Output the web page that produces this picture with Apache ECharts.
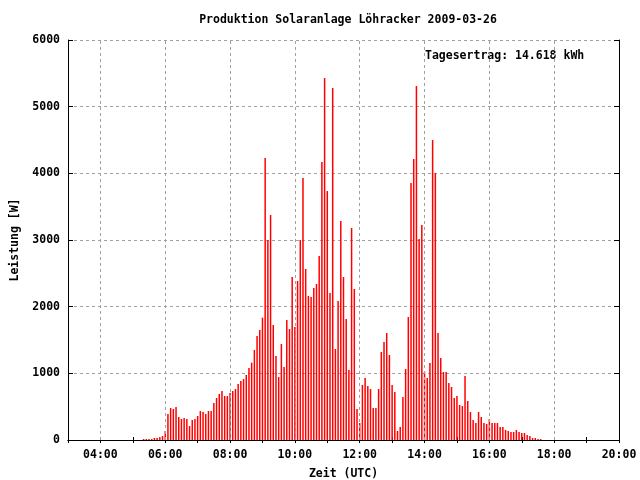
<!DOCTYPE html>
<html><head><meta charset="utf-8">
<script src="https://cdn.jsdelivr.net/npm/echarts@6/dist/echarts.min.js"></script>
<style>html,body{margin:0;padding:0;background:#fff}#c{width:640px;height:480px}</style>
</head><body><div id="c"></div>
<script>
const titleText = 'Produktion Solaranlage Löhracker 2009-03-26';
const noteText = 'Tagesertrag: 14.618 kWh';
const startTime = '05:20';
const stepMinutes = 5;
const powerValues = [
 15,15,15,15,30,30,45,60,
 135,390,480,465,495,345,315,330,315,210,300,315,
 360,435,420,390,435,435,555,630,690,735,660,660,
 705,735,765,840,885,915,975,1080,1160,1350,1560,1650,
 1835,4230,3000,3375,1725,1260,945,1440,1095,1800,1665,2445,
 1695,2385,3000,3930,2565,2160,2145,2280,2340,2760,4170,5430,
 3735,2205,5280,1365,2085,3285,2445,1815,1050,3180,2265,465,
 255,825,930,810,765,480,480,765,1320,1470,1605,1275,
 825,720,135,195,645,1065,1845,3855,4215,5310,3015,3225,
 1020,930,1155,4500,4005,1605,1230,1020,1020,855,795,630,
 660,525,510,960,585,420,300,255,420,345,255,240,
 315,255,255,255,195,195,150,135,120,120,150,120,
 105,105,75,60,30,30,15,15
];
const xMin = 3, xMax = 20;
const yTicks = [0,1000,2000,3000,4000,5000,6000];
const gridHours = [4,6,8,10,12,14,16,18];

function toHours(s){const p=s.split(':');return +p[0]+(+p[1])/60;}
const t0 = toHours(startTime);
const seriesData = powerValues.map((v,i)=>[t0 + i*stepMinutes/60, v]);

const font = 'DejaVu Sans Mono';
const txt = {fontFamily:font, fontSize:11.5, fontWeight:'bold', color:'#000'};
const fmtHour = v => (Math.round(v)%2===0) ? (String(Math.round(v)).padStart(2,'0')+':00') : '';

const chart = echarts.init(document.getElementById('c'), null, {renderer:'canvas'});
chart.setOption({
  animation:false,
  backgroundColor:'#fff',
  title:{text:titleText, left:343, top:9, textAlign:'center', textStyle:Object.assign({},txt)},
  grid:{left:68, right:21, top:40, bottom:40, containLabel:false, outerBoundsMode:'none'},
  xAxis:[{
    type:'value', min:xMin, max:xMax, interval:1, position:'bottom',
    name:'Zeit (UTC)', nameLocation:'middle', nameGap:28, nameTextStyle:Object.assign({},txt),
    axisLine:{show:true, lineStyle:{color:'#000', width:1}},
    axisTick:{show:true, inside:true, length:3, lineStyle:{color:'#000'}},
    axisLabel:Object.assign({margin:9, formatter:fmtHour, showMaxLabel:true, showMinLabel:true}, txt),
    splitLine:{show:false}
  },{
    type:'value', min:xMin, max:xMax, interval:1, position:'top',
    axisLine:{show:true, lineStyle:{color:'#000', width:1}},
    axisTick:{show:true, inside:true, length:3, lineStyle:{color:'#000'}},
    axisLabel:{show:false}, splitLine:{show:false}
  }],
  yAxis:[{
    type:'value', min:yTicks[0], max:yTicks[yTicks.length-1], interval:1000, position:'left',
    name:'Leistung [W]', nameLocation:'middle', nameGap:47, nameRotate:90, nameTextStyle:Object.assign({},txt),
    axisLine:{show:true, lineStyle:{color:'#000', width:1}},
    axisTick:{show:true, inside:true, length:5, lineStyle:{color:'#000'}},
    axisLabel:Object.assign({margin:8, formatter:v=>String(v)}, txt),
    splitLine:{show:true, lineStyle:{color:'#a0a0a0', width:1, type:[3,3]}}
  },{
    type:'value', min:yTicks[0], max:yTicks[yTicks.length-1], interval:1000, position:'right',
    axisLine:{show:true, lineStyle:{color:'#000', width:1}},
    axisTick:{show:true, inside:true, length:5, lineStyle:{color:'#000'}},
    axisLabel:{show:false}, splitLine:{show:false}
  }],
  graphic:[{type:'text', left:425, top:50, style:{text:noteText, font:'bold 11.5px "DejaVu Sans Mono"', fill:'#000'}}],
  series:[{
    type:'bar', xAxisIndex:0, yAxisIndex:0, data:seriesData, barWidth:1.5,
    itemStyle:{color:'#ff0000'},
    markLine:{symbol:'none', silent:true, label:{show:false},
      lineStyle:{color:'#a0a0a0', width:1, type:[3,3]},
      data:gridHours.map(h=>({xAxis:h}))}
  }]
});
</script></body></html>
